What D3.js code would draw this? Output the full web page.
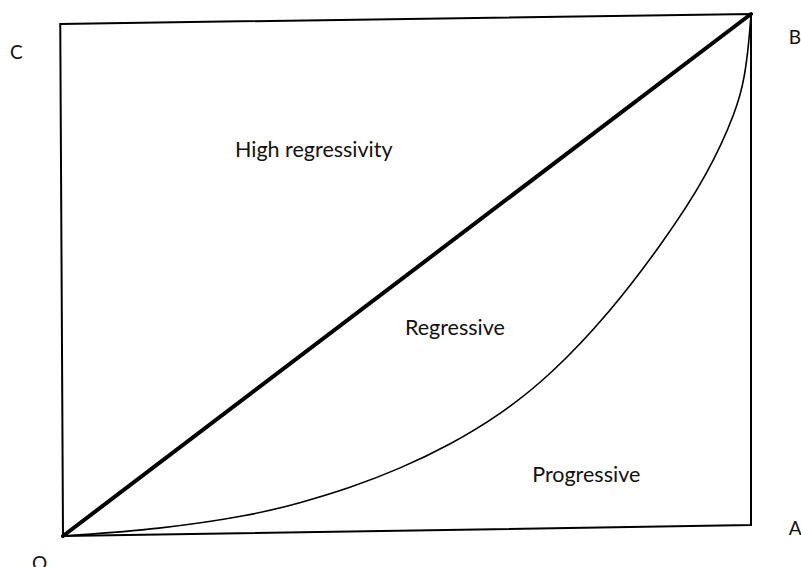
<!DOCTYPE html>
<html>
<head>
<meta charset="utf-8">
<script src="https://cdn.jsdelivr.net/npm/d3@7"></script>
<style>
  html, body { margin: 0; padding: 0; background: #fff; }
  svg { display: block; }
  text { font-family: Lato, "Open Sans", sans-serif; fill: #111; }
</style>
</head>
<body>
<svg id="chart" width="801" height="567"></svg>
<script>
// Box corners (share of population u, share of tax v, in %)
const cornerNames = ["O", "A", "B", "C"];
const cornerU = [0, 100, 100, -0.4];
const cornerV = [0, 2.1, 100, 98.1];

// Corner label anchor positions (data units)
const cornerLabelU = [-4.5, 105.5, 105.5, -7.7];
const cornerLabelV = [-6.5, 0.2, 94.2, 91.4];

// Equality diagonal O -> B
const diagonalU = [0, 100];
const diagonalV = [0, 100];

// Concentration curve O -> B
const curveU = [0, 14.1, 27.2, 34.4, 41.7, 49.0, 56.3, 63.5, 70.8, 79.5, 87.2, 93.6, 98.0, 99.1, 99.7, 100];
const curveV = [0, 1.3, 3.9, 6.3, 9.2, 12.9, 17.5, 23.2, 30.7, 42.8, 56.2, 68.9, 81.8, 88.1, 94.6, 100];

// Region labels
const regionNames = ["High regressivity", "Regressive", "Progressive"];
const regionU = [25.0, 49.7, 68.2];
const regionV = [72.7, 38.6, 10.4];

const svg = d3.select("#chart");
const x = d3.scaleLinear().domain([0, 100]).range([63, 751]);
const y = d3.scaleLinear().domain([0, 100]).range([536, 14]);

const corners = cornerNames.map((n, i) => ({ name: n, u: cornerU[i], v: cornerV[i] }));

// Box edges
const boxLine = d3.line().x(d => x(d.u)).y(d => y(d.v));
svg.append("path")
  .datum([...corners, corners[0]])
  .attr("d", boxLine)
  .attr("fill", "none")
  .attr("stroke", "#000")
  .attr("stroke-width", 2)
  .attr("stroke-linejoin", "miter");

// Diagonal
svg.append("path")
  .datum(diagonalU.map((u, i) => ({ u, v: diagonalV[i] })))
  .attr("d", boxLine)
  .attr("fill", "none")
  .attr("stroke", "#000")
  .attr("stroke-width", 4)
  .attr("stroke-linecap", "round");

// Curve
const curveLine = d3.line().x(d => x(d.u)).y(d => y(d.v)).curve(d3.curveBasis);
svg.append("path")
  .datum(curveU.map((u, i) => ({ u, v: curveV[i] })))
  .attr("d", curveLine)
  .attr("fill", "none")
  .attr("stroke", "#000")
  .attr("stroke-width", 1.6);

// Corner labels
svg.selectAll("text.corner")
  .data(cornerNames.map((n, i) => ({ name: n, u: cornerLabelU[i], v: cornerLabelV[i] })))
  .join("text")
  .attr("class", "corner")
  .attr("x", d => x(d.u))
  .attr("y", d => y(d.v))
  .attr("font-size", 19)
  .text(d => d.name);

// Region labels
svg.selectAll("text.region")
  .data(regionNames.map((n, i) => ({ name: n, u: regionU[i], v: regionV[i] })))
  .join("text")
  .attr("class", "region")
  .attr("x", d => x(d.u))
  .attr("y", d => y(d.v))
  .attr("font-size", 21.5)
  .text(d => d.name);
</script>
</body>
</html>
